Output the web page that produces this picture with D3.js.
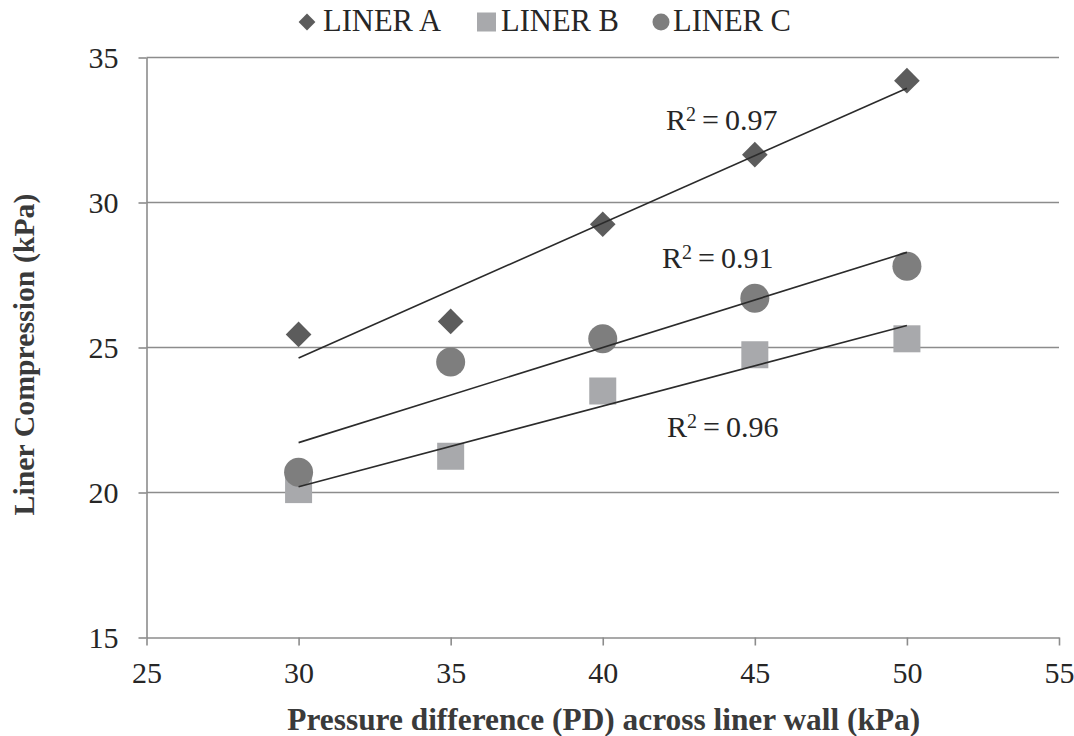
<!DOCTYPE html>
<html>
<head>
<meta charset="utf-8">
<script src="https://cdn.jsdelivr.net/npm/d3@7"></script>
<style>
  html, body { margin: 0; padding: 0; background: #fff; }
</style>
</head>
<body>
<svg id="chart" width="1074" height="736"></svg>
<script>
// ---- data ----
const pressureDiff = [30, 35, 40, 45, 50];
const linerA = [25.45, 25.9, 29.25, 31.65, 34.2];
const linerB = [20.1, 21.25, 23.5, 24.75, 25.3];
const linerC = [20.7, 24.5, 25.3, 26.7, 27.8];
const seriesNames = ["LINER A", "LINER B", "LINER C"];
const rSquared = ["0.97", "0.96", "0.91"];
const xTicks = [25, 30, 35, 40, 45, 50, 55];
const yTicks = [15, 20, 25, 30, 35];
const xTitle = "Pressure difference (PD) across liner wall (kPa)";
const yTitle = "Liner Compression (kPa)";

// ---- layout ----
const FONT = '"Liberation Serif", "Times New Roman", serif';
const svg = d3.select("#chart");
const mLeft = 146.5, mRight = 1059, mTop = 57.5, mBottom = 637.5;
const x = d3.scaleLinear().domain([25, 55]).range([mLeft, mRight]);
const y = d3.scaleLinear().domain([15, 35]).range([mBottom, mTop]);

const gridColor = "#8c8c8c";
const textColor = "#262626";
const colors = { A: "#5c5c5c", B: "#a8a9ac", C: "#7e7e7e" };

// fit font size so a text spans the target width
function fitSize(sel, target) {
  sel.attr("font-size", 30);
  const L = sel.node().getComputedTextLength();
  sel.attr("font-size", 30 * target / L);
}

// gridlines
svg.append("g").selectAll("line").data(yTicks.filter(d => d > 15)).join("line")
  .attr("x1", mLeft).attr("x2", mRight)
  .attr("y1", d => y(d)).attr("y2", d => y(d))
  .attr("stroke", gridColor).attr("stroke-width", 1.6);

// y axis
const yAxis = svg.append("g").attr("transform", `translate(${mLeft},0)`)
  .call(d3.axisLeft(y).tickValues(yTicks).tickSize(8).tickPadding(20).tickSizeOuter(0));
yAxis.attr("font-family", FONT);
yAxis.select(".domain").attr("stroke", gridColor).attr("stroke-width", 1.6);
yAxis.selectAll(".tick line").attr("stroke", gridColor).attr("stroke-width", 1.6);
yAxis.selectAll(".tick text").attr("font-size", 30).attr("fill", textColor)
  .style("font-family", FONT);

// x axis
const xAxis = svg.append("g").attr("transform", `translate(0,${mBottom})`)
  .call(d3.axisBottom(x).tickValues(xTicks).tickSize(8).tickPadding(16).tickSizeOuter(0));
xAxis.attr("font-family", FONT);
xAxis.select(".domain").attr("stroke", gridColor).attr("stroke-width", 1.6);
xAxis.selectAll(".tick line").attr("stroke", gridColor).attr("stroke-width", 1.6);
xAxis.selectAll(".tick text").attr("font-size", 30).attr("fill", textColor)
  .style("font-family", FONT);

// axis titles
const xt = svg.append("text").attr("x", (mLeft + mRight) / 2 + 1).attr("y", 730)
  .attr("text-anchor", "middle").attr("font-weight", "bold")
  .style("font-family", FONT).attr("fill", "#3a3a3a").text(xTitle);
fitSize(xt, 633);
const yt = svg.append("text").attr("transform", `translate(34,${(mTop + mBottom) / 2 + 7}) rotate(-90)`)
  .attr("text-anchor", "middle").attr("font-weight", "bold")
  .style("font-family", FONT).attr("fill", "#3a3a3a").text(yTitle);
fitSize(yt, 322);

// markers
const pts = (arr) => pressureDiff.map((p, i) => [p, arr[i]]);
const diamond = d3.symbol().type(d3.symbolDiamond2);

svg.append("g").selectAll("path").data(pts(linerA)).join("path")
  .attr("transform", d => `translate(${x(d[0])},${y(d[1])})`)
  .attr("d", diamond.size(420)()).attr("fill", colors.A);

svg.append("g").selectAll("rect").data(pts(linerB)).join("rect")
  .attr("x", d => x(d[0]) - 13.5).attr("y", d => y(d[1]) - 13.5)
  .attr("width", 27).attr("height", 27).attr("fill", colors.B);

svg.append("g").selectAll("circle").data(pts(linerC)).join("circle")
  .attr("cx", d => x(d[0])).attr("cy", d => y(d[1])).attr("r", 14.5)
  .attr("fill", colors.C);

// linear trendlines (least squares)
function fit(arr) {
  const mx = d3.mean(pressureDiff), my = d3.mean(arr);
  let sxy = 0, sxx = 0;
  pressureDiff.forEach((p, i) => { sxy += (p - mx) * (arr[i] - my); sxx += (p - mx) ** 2; });
  const b = sxy / sxx, a = my - b * mx;
  const x0 = d3.min(pressureDiff), x1 = d3.max(pressureDiff);
  return [[x0, a + b * x0], [x1, a + b * x1]];
}
const line = d3.line().x(d => x(d[0])).y(d => y(d[1]));
[linerA, linerB, linerC].forEach(arr => {
  svg.append("path").attr("d", line(fit(arr)))
    .attr("fill", "none").attr("stroke", "#2b2b2b").attr("stroke-width", 1.6);
});

// R² labels
const rLabels = [
  { v: rSquared[0], x: 666, y: 130 },
  { v: rSquared[2], x: 662, y: 268 },
  { v: rSquared[1], x: 667, y: 437 }
];
rLabels.forEach(l => {
  const t = svg.append("text").attr("x", l.x).attr("y", l.y)
    .attr("font-size", 30).attr("fill", textColor).style("font-family", FONT);
  t.append("tspan").text("R");
  t.append("tspan").attr("font-size", 20).attr("dy", -9).text("2");
  t.append("tspan").attr("dy", 9).text("\u2009=\u2009" + l.v);
});

// legend
const lg = svg.append("g");
const legendY = 22;
const legendText = (xx, s) => {
  const t = lg.append("text").attr("x", xx).attr("y", 31).attr("fill", textColor)
    .style("font-family", FONT).text(s);
  fitSize(t, 118);
};
lg.append("path").attr("transform", `translate(307,${legendY})`)
  .attr("d", d3.symbol().type(d3.symbolDiamond2).size(180)()).attr("fill", colors.A);
legendText(323, seriesNames[0]);
lg.append("rect").attr("x", 477).attr("y", legendY - 9.5).attr("width", 19).attr("height", 19).attr("fill", colors.B);
legendText(501, seriesNames[1]);
lg.append("circle").attr("cx", 661).attr("cy", legendY).attr("r", 8.5).attr("fill", colors.C);
legendText(673, seriesNames[2]);
</script>
</body>
</html>
